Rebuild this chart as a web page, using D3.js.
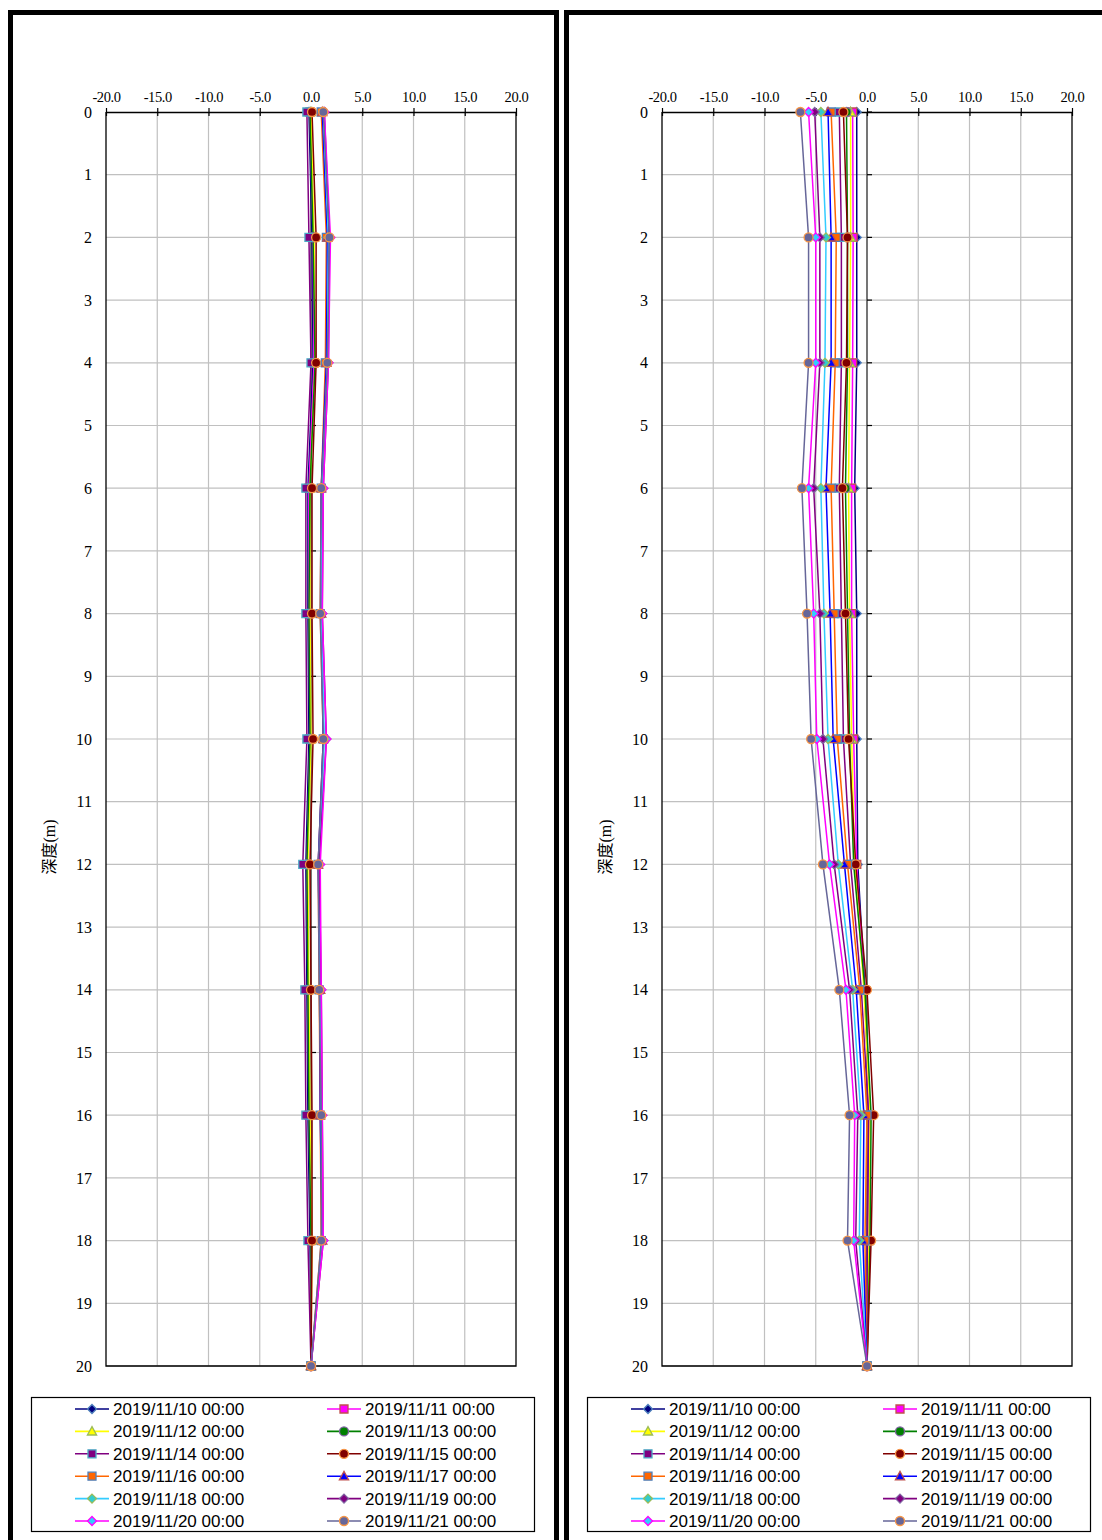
<!DOCTYPE html>
<html><head><meta charset="utf-8">
<script src="https://cdn.jsdelivr.net/npm/d3@7"></script>
<style>body{margin:0;background:#fff}svg{display:block}</style>
</head><body>
<script>
// ---------- DATA ----------
const depths = [0, 2, 4, 6, 8, 10, 12, 14, 16, 18, 20];
const seriesLabels = ["2019/11/10 00:00","2019/11/11 00:00","2019/11/12 00:00","2019/11/13 00:00",
  "2019/11/14 00:00","2019/11/15 00:00","2019/11/16 00:00","2019/11/17 00:00",
  "2019/11/18 00:00","2019/11/19 00:00","2019/11/20 00:00","2019/11/21 00:00"];
const xTicks = [-20, -15, -10, -5, 0, 5, 10, 15, 20];
const xTickLabels = ["-20.0","-15.0","-10.0","-5.0","0.0","5.0","10.0","15.0","20.0"];
const yTicks = [0,1,2,3,4,5,6,7,8,9,10,11,12,13,14,15,16,17,18,19,20];
const yTitle = "深度(m)";

// left chart
const left_1110 = [-0.2, 0.1, 0.2, -0.3, -0.3, -0.2, -0.5, -0.4, -0.3, -0.1, 0];
const left_1111 = [-0.1, 0.2, 0.3, -0.2, -0.2, -0.1, -0.4, -0.3, -0.2, 0.0, 0];
const left_1112 = [0.0, 0.3, 0.4, -0.1, -0.1, 0.0, -0.3, -0.2, -0.1, 0.1, 0];
const left_1113 = [-0.1, 0.2, 0.4, -0.1, -0.2, -0.1, -0.4, -0.3, -0.2, 0.0, 0];
const left_1114 = [-0.4, -0.2, 0.0, -0.5, -0.5, -0.4, -0.8, -0.6, -0.5, -0.3, 0];
const left_1115 = [0.1, 0.5, 0.5, 0.1, 0.1, 0.2, -0.1, 0.0, 0.1, 0.1, 0];
const left_1116 = [1.0, 1.5, 1.4, 1.0, 0.9, 1.2, 0.7, 0.8, 0.9, 1.0, 0];
const left_1117 = [1.1, 1.6, 1.5, 1.0, 1.0, 1.2, 0.7, 0.9, 0.9, 1.1, 0];
const left_1118 = [1.2, 1.7, 1.6, 1.1, 1.0, 1.3, 0.8, 0.9, 1.0, 1.1, 0];
const left_1119 = [1.3, 1.8, 1.7, 1.2, 1.1, 1.5, 0.8, 1.0, 1.1, 1.2, 0];
const left_1120 = [1.3, 1.9, 1.7, 1.2, 1.1, 1.5, 0.9, 1.0, 1.1, 1.2, 0];
const left_1121 = [1.2, 1.8, 1.6, 1.0, 0.9, 1.2, 0.7, 0.8, 1.0, 1.0, 0];

// right chart
const right_1110 = [-1.0, -1.0, -1.0, -1.2, -1.0, -1.0, -0.9, -0.2, 0.2, 0.1, 0];
const right_1111 = [-1.4, -1.35, -1.4, -1.5, -1.5, -1.3, -1.0, -0.25, 0.25, 0.2, 0];
const right_1112 = [-1.6, -1.6, -1.7, -1.8, -1.7, -1.5, -1.2, -0.3, 0.3, 0.2, 0];
const right_1113 = [-2.0, -1.9, -1.9, -2.1, -1.9, -1.7, -1.3, -0.2, 0.4, 0.3, 0];
const right_1114 = [-2.7, -2.5, -2.5, -2.7, -2.5, -2.3, -1.6, -0.55, 0.15, 0.0, 0];
const right_1115 = [-2.3, -1.9, -2.0, -2.4, -2.1, -1.8, -1.1, 0.0, 0.65, 0.4, 0];
const right_1116 = [-3.5, -3.0, -3.1, -3.5, -3.2, -2.9, -1.9, -0.7, 0.0, -0.2, 0];
const right_1117 = [-3.8, -3.5, -3.5, -4.0, -3.6, -3.3, -2.2, -1.05, -0.3, -0.4, 0];
const right_1118 = [-4.5, -4.0, -4.1, -4.5, -4.2, -3.8, -2.8, -1.4, -0.6, -0.75, 0];
const right_1119 = [-5.1, -4.6, -4.6, -5.2, -4.6, -4.3, -3.2, -1.7, -0.9, -1.1, 0];
const right_1120 = [-5.7, -5.0, -5.0, -5.7, -5.2, -4.9, -3.65, -2.05, -1.2, -1.3, 0];
const right_1121 = [-6.5, -5.7, -5.7, -6.35, -5.85, -5.45, -4.3, -2.7, -1.7, -1.9, 0];

const leftSeries = [left_1110,left_1111,left_1112,left_1113,left_1114,left_1115,
  left_1116,left_1117,left_1118,left_1119,left_1120,left_1121];
const rightSeries = [right_1110,right_1111,right_1112,right_1113,right_1114,right_1115,
  right_1116,right_1117,right_1118,right_1119,right_1120,right_1121];

// ---------- STYLES ----------
const styles = [
  {line:"#000080", shape:"diamond",  fill:"#000080", stroke:"#4F81BD"},
  {line:"#FF00FF", shape:"square",   fill:"#FF00FF", stroke:"#C0504D"},
  {line:"#FFFF00", shape:"triangle", fill:"#FFFF00", stroke:"#9BBB59"},
  {line:"#008000", shape:"circle",   fill:"#008000", stroke:"#8064A2"},
  {line:"#800080", shape:"square",   fill:"#800080", stroke:"#4BACC6"},
  {line:"#800000", shape:"circle",   fill:"#800000", stroke:"#F79646"},
  {line:"#FF6600", shape:"square",   fill:"#FF6600", stroke:"#4F81BD"},
  {line:"#0000FF", shape:"triangle", fill:"#0000FF", stroke:"#C0504D"},
  {line:"#33CCFF", shape:"diamond",  fill:"#33CCCC", stroke:"#9BBB59"},
  {line:"#800080", shape:"diamond",  fill:"#800080", stroke:"#8064A2"},
  {line:"#FF00FF", shape:"diamond",  fill:"#33CCFF", stroke:"#FF00FF"},
  {line:"#666699", shape:"circle",   fill:"#666699", stroke:"#F79646"}
];

function markerPath(shape){
  const s = 4.5;
  if(shape==="diamond") return `M0,${-s}L${s},0L0,${s}L${-s},0Z`;
  if(shape==="square") return `M${-4},${-4}H4V4H-4Z`;
  if(shape==="triangle") return `M0,${-4.8}L${4.6},${3.6}L${-4.6},${3.6}Z`;
  return d3.symbol(d3.symbolCircle, Math.PI*4.5*4.5)();
}

const W = 1102, H = 1540;
const svg = d3.select("body").append("svg").attr("width",W).attr("height",H);

const serif = "'Liberation Serif','Times New Roman',serif";
const cjk = "'Liberation Serif','Noto Sans CJK TC','Noto Sans CJK SC',serif";
const sans = "'Liberation Sans',Arial,sans-serif";

function drawPanel(dx, data){
  const g = svg.append("g").attr("transform",`translate(${dx},0)`);
  g.append("rect").attr("x",10.5).attr("y",12.5).attr("width",546).attr("height",1600)
    .attr("fill","none").attr("stroke","#000").attr("stroke-width",5);

  const x = d3.scaleLinear().domain([-20,20]).range([106,516]);
  const y = d3.scaleLinear().domain([0,20]).range([112,1366]);

  g.append("g").selectAll("line").data(yTicks.slice(1)).join("line")
    .attr("x1",x(-20)).attr("x2",x(20)).attr("y1",d=>y(d)).attr("y2",d=>y(d))
    .attr("stroke","#C0C0C0").attr("stroke-width",1.2);
  g.append("g").selectAll("line").data(xTicks.slice(1,-1)).join("line")
    .attr("x1",d=>x(d)).attr("x2",d=>x(d)).attr("y1",y(0)).attr("y2",y(20))
    .attr("stroke","#C0C0C0").attr("stroke-width",1.2);

  g.append("path").attr("d",`M${x(-20)},${y(0)}V${y(20)}H${x(20)}V${y(0)}`)
    .attr("fill","none").attr("stroke","#000").attr("stroke-width",1.3);

  g.append("line").attr("x1",x(0)).attr("x2",x(0)).attr("y1",y(0)).attr("y2",y(20))
    .attr("stroke","#404040").attr("stroke-width",1.3);
  g.append("g").selectAll("line").data(yTicks).join("line")
    .attr("x1",x(0)).attr("x2",x(0)+5).attr("y1",d=>y(d)).attr("y2",d=>y(d))
    .attr("stroke","#000").attr("stroke-width",1.2);

  const xAxis = d3.axisTop(x).tickValues(xTicks).tickSize(0).tickPadding(10)
    .tickFormat((d,i)=>xTickLabels[i]);
  const xa = g.append("g").attr("transform",`translate(0,${y(0)})`).call(xAxis);
  xa.select(".domain").attr("stroke","#000").attr("stroke-width",1.5);
  xa.selectAll(".tick text").attr("font-family",serif).attr("font-size",14.5).attr("fill","#000")
    .attr("letter-spacing","-0.4");
  xa.selectAll(".tick").append("line").attr("y1",-4).attr("y2",4).attr("stroke","#000").attr("stroke-width",1.2);

  const ya = d3.axisLeft(y).tickValues(yTicks).tickSize(0).tickPadding(14);
  const yg = g.append("g").attr("transform",`translate(${x(-20)},0)`).call(ya);
  yg.select(".domain").remove();
  yg.selectAll(".tick text").attr("font-family",serif).attr("font-size",16).attr("fill","#000");

  g.append("text").attr("transform",`translate(55,847) rotate(-90)`)
    .attr("text-anchor","middle").attr("font-family",cjk).attr("font-size",16)
    .attr("fill","#000").text(yTitle);

  const line = d3.line().x(d=>x(d[0])).y(d=>y(d[1]));
  data.forEach((vals,i)=>{
    const st = styles[i];
    const pts = vals.map((v,j)=>[v, depths[j]]);
    const sg = g.append("g");
    sg.append("path").attr("d",line(pts)).attr("fill","none")
      .attr("stroke",st.line).attr("stroke-width",1.5);
    sg.selectAll("path.m").data(pts).join("path").attr("class","m")
      .attr("transform",d=>`translate(${x(d[0])},${y(d[1])})`)
      .attr("d",markerPath(st.shape)).attr("fill",st.fill)
      .attr("stroke",st.stroke).attr("stroke-width",1.3);
  });

  const lg = g.append("g");
  lg.append("rect").attr("x",31.5).attr("y",1397.5).attr("width",503).attr("height",134)
    .attr("fill","#fff").attr("stroke","#000").attr("stroke-width",1.2);
  seriesLabels.forEach((lab,i)=>{
    const col = i%2, row = Math.floor(i/2);
    const lx = col===0 ? 75 : 327;
    const ly = 1409 + row*22.4;
    const st = styles[i];
    lg.append("line").attr("x1",lx).attr("x2",lx+34).attr("y1",ly).attr("y2",ly)
      .attr("stroke",st.line).attr("stroke-width",1.6);
    lg.append("path").attr("transform",`translate(${lx+17},${ly})`).attr("d",markerPath(st.shape))
      .attr("fill",st.fill).attr("stroke",st.stroke).attr("stroke-width",1.3);
    lg.append("text").attr("x",lx+38).attr("y",ly+6).attr("font-family",sans)
      .attr("font-size",17).attr("fill","#000").text(lab);
  });
}

drawPanel(0, leftSeries);
drawPanel(556, rightSeries);
</script>
</body></html>
